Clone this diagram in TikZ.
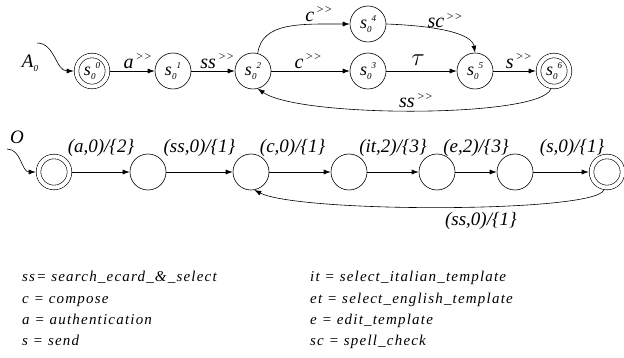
\documentclass[tikz,border=0pt]{standalone}
\usepackage{fontspec}
\setmainfont{Liberation Serif}
\usepackage{tikz}
\usetikzlibrary{arrows.meta,positioning}

% state label s_0^k
\newcommand{\stname}[1]{s\raisebox{-.45ex}{\small 0}\raisebox{.8ex}{\small #1}}
\newcommand{\gtg}{\raisebox{.85ex}{\fontsize{12}{12}\selectfont\,{>}{>}}}

\tikzset{
    every node/.style={font=\fontsize{19}{21}\selectfont\itshape},
    state/.style={circle, draw, line width=0.6pt, minimum size=36pt, inner sep=0pt,
        font=\fontsize{18}{20}\selectfont\itshape},
    final/.style={state, minimum size=31pt, double, double distance=4pt, outer sep=2.8pt},
    trans/.style={line width=0.6pt, -{Latex[length=7pt,width=5pt]}},
    lbl/.style={above=-1pt, font=\fontsize{20}{22}\selectfont\itshape},
    legend/.style={anchor=base west, inner sep=0pt,
        font=\fontsize{15}{17}\selectfont\itshape\addfontfeature{LetterSpace=8}}
}

\begin{document}
\begin{tikzpicture}[x=1pt,y=-1pt]
    \useasboundingbox (0,0) rectangle (624,358);

    % upper automaton A_0
    \node[final] (s0) at (92,71) {\stname{0}};
    \node[state] (s1) at (173,71) {\stname{1}};
    \node[state] (s2) at (253,71) {\stname{2}};
    \node[state] (s3) at (368,71) {\stname{3}};
    \node[state] (s4) at (368,24) {\stname{4}};
    \node[state] (s5) at (475,71) {\stname{5}};
    \node[final] (s6) at (554,71) {\stname{6}};

    \node (a0) at (30,63) {A\raisebox{-.5ex}{\small 0}};
    \coordinate (a0in) at (37,43);
    \draw[trans] (a0in) to[out=0,in=180] (s0);

    \draw[trans] (s0) -- node[lbl,pos=.62] {a\gtg} (s1);
    \draw[trans] (s1) -- node[lbl,pos=.6] {ss\gtg} (s2);
    \draw[trans] (s2) -- node[lbl,pos=.47] {c\gtg} (s3);
    \draw[trans] (s3) -- node[lbl,above=2pt,pos=.45] {\fontsize{24}{24}\selectfont$\tau$} (s5);
    \draw[trans] (s5) -- node[lbl,pos=.6] {s\gtg} (s6);
    \draw[trans] (s2.75) .. controls (262,22) and (300,24) .. node[lbl,pos=.78] {c\gtg} (s4.west);
    \draw[trans] (s4.east) .. controls (440,26) and (472,34) .. node[lbl,pos=.45] {sc\gtg} (s5.north);
    \draw[trans] (s6.-100) .. controls (540,118) and (300,118) .. node[lbl] {ss\gtg} (s2.-75);

    % lower automaton O
    \node[final] (o1) at (54,172) {};
    \node[state] (o2) at (148,172) {};
    \node[state] (o3) at (251,172) {};
    \node[state] (o4) at (349,172) {};
    \node[state] (o5) at (437,172) {};
    \node[state] (o6) at (515,172) {};
    \node[final] (o7) at (607,172) {};

    \node (olbl) at (17,137) {O};
    \coordinate (oin) at (7,149);
    \draw[trans] (oin) to[out=0,in=180] (o1);

    \draw[trans] (o1) -- node[above=12pt] {(a,0)/\{2\}} (o2);
    \draw[trans] (o2) -- node[above=12pt] {(ss,0)/\{1\}} (o3);
    \draw[trans] (o3) -- node[above=12pt,pos=.38] {(c,0)/\{1\}} (o4);
    \draw[trans] (o4) -- node[above=12pt] {(it,2)/\{3\}} (o5);
    \draw[trans] (o5) -- node[above=12pt] {(e,2)/\{3\}} (o6);
    \draw[trans] (o6) -- node[above=12pt,pos=.7] {(s,0)/\{1\}} (o7);
    \draw[trans] (o7.-100) .. controls (595,213) and (300,213) .. node[below=2pt,pos=.42] {(ss,0)/\{1\}} (o3.-80);

    % legend
    \node[legend] (l1) at (22,282) {ss= search\_ecard\_\&\_select};
    \node[legend] (l2) at (22,303) {c = compose};
    \node[legend] (l3) at (22,324) {a = authentication};
    \node[legend] (l4) at (22,345) {s = send};
    \node[legend] (r1) at (310,282) {it = select\_italian\_template};
    \node[legend] (r2) at (310,303) {et = select\_english\_template};
    \node[legend] (r3) at (310,324) {e = edit\_template};
    \node[legend] (r4) at (310,345) {sc = spell\_check};
\end{tikzpicture}
\end{document}
